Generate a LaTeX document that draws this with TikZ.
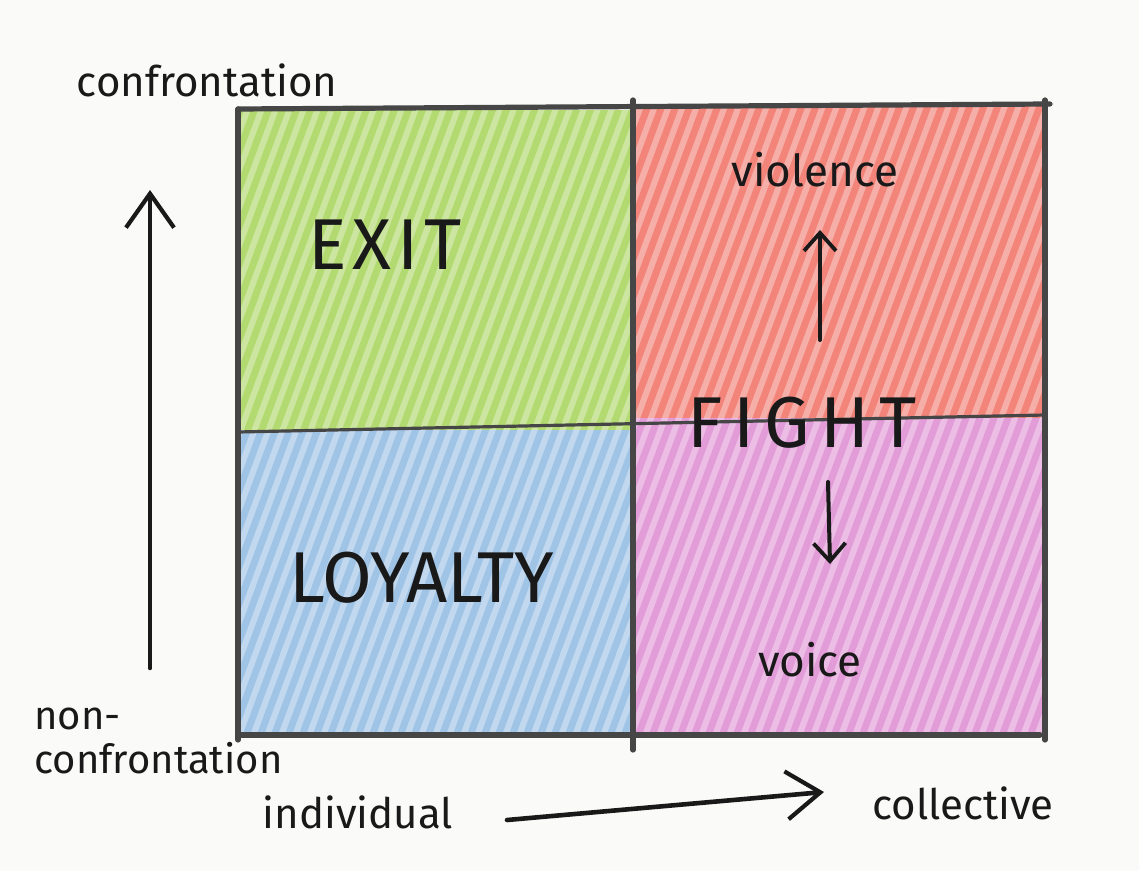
\documentclass[tikz,border=0pt]{standalone}
\usepackage{fontspec}
\setmainfont{Fira Sans}
\usetikzlibrary{arrows.meta}
\definecolor{paper}{RGB}{250,250,248}
\definecolor{qgreen}{RGB}{178,218,112}
\definecolor{qred}{RGB}{242,132,122}
\definecolor{qblue}{RGB}{160,196,230}
\definecolor{qpink}{RGB}{226,156,216}
\definecolor{pencil}{RGB}{70,70,70}
\definecolor{ink}{RGB}{25,25,25}
\tikzset{
  gridline/.style={draw=pencil, line width=2.6pt, line cap=round},
  axisarrow/.style={draw=ink, line width=2.3pt, line cap=round, -{Straight Barb[length=17pt,width=24pt,line width=2.1pt]}},
  smallarrow/.style={draw=ink, line width=2pt, line cap=round, -{Straight Barb[length=9pt,width=16pt,line width=1.9pt]}},
  bigtext/.style={font=\fontsize{36}{40}\selectfont, text=ink, inner sep=0pt},
  smalltext/.style={font=\fontsize{21}{24}\selectfont, text=ink, inner sep=0pt},
  streak/.style={white, opacity=0.35, line width=3pt}
}
\begin{document}
\begin{tikzpicture}[x=0.5pt,y=-0.5pt]
\useasboundingbox (0,0) rectangle (1139,871);
\fill[paper] (0,0) rectangle (1139,871);
% quadrant fills
\fill[qgreen] (240,110) rectangle (633,430);
\fill[qred] (633,106) rectangle (1045,418);
\fill[qblue] (240,430) rectangle (633,735);
\fill[qpink] (633,418) rectangle (1045,735);
% pencil streaks
\begin{scope}
\clip (240,106) rectangle (1045,735);
\foreach \i in {0,...,95} {
  \draw[streak] ({-120+\i*14},760) -- ({-120+\i*14+260},60);
}
\end{scope}
% grid
\draw[gridline] (238,109) -- (1050,104);
\draw[gridline] (238,109) -- (238,740);
\draw[gridline] (1045,100) -- (1045,740);
\draw[gridline] (240,735) -- (1040,735);
\draw[gridline] (633,100) -- (633,750);
\draw[gridline, line width=1.6pt] (238,432) -- (1045,415);
% axes
\coordinate (ybot) at (150,668);
\coordinate (ytop) at (150,190);
\draw[axisarrow] (ybot) -- (ytop);
\coordinate (xleft) at (507,820);
\coordinate (xright) at (824,792);
\draw[axisarrow] (xleft) -- (xright);
% axis labels
\node[smalltext] (conf) at (207,80) {confrontation};
\node[smalltext, anchor=north west, align=left, font=\fontsize{20}{22}\selectfont] (nonconf) at (34,708) {non-\\confrontation};
\node[smalltext] (indiv) at (358,812) {individual};
\node[smalltext] (coll) at (963,803) {collective};
% quadrant labels
\node[bigtext] (exit) at (385,245) {\addfontfeature{LetterSpace=8}EXIT};
\node[bigtext] (loyalty) at (422,578) {LOYALTY};
\node[bigtext] (fight) at (802,423) {\addfontfeature{LetterSpace=14}FIGHT};
\node[smalltext, font=\fontsize{22}{24}\selectfont] (violence) at (815,170) {violence};
\node[smalltext, font=\fontsize{22}{24}\selectfont] (voice) at (810,660) {voice};
% fight arrows
\coordinate (upbot) at (820,340);
\coordinate (uptop) at (820,230);
\draw[smallarrow] (upbot) -- (uptop);
\coordinate (dntop) at (828,482);
\coordinate (dnbot) at (830,564);
\draw[smallarrow] (dntop) -- (dnbot);
\end{tikzpicture}
\end{document}
